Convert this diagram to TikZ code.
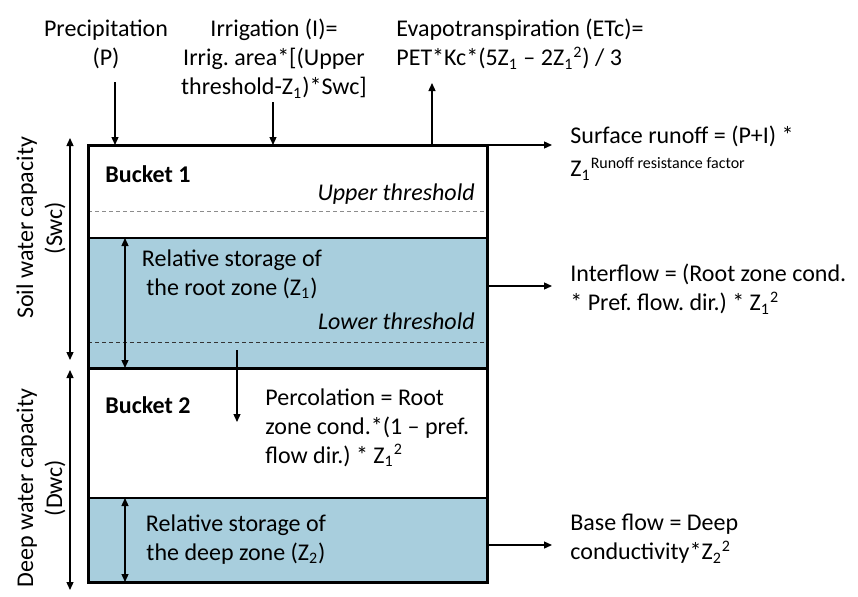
\documentclass[tikz,border=0pt]{standalone}
\usepackage{fontspec}
\setmainfont{Carlito}
\usetikzlibrary{arrows.meta}
\frenchspacing
\definecolor{zone}{RGB}{168,206,221}
\colorlet{thresh}{black!45}
\tikzset{
	lbl/.style={inner sep=0pt, font=\fontsize{12}{14.5}\selectfont},
	lbll/.style={lbl, align=left},
	lblc/.style={lbl, align=center},
	flow/.style={->, line width=0.65pt},
	span/.style={<->, line width=0.65pt},
	wall/.style={line width=1.5pt},
	divider/.style={line width=1pt},
	upperdash/.style={thresh, line width=0.5pt, dash pattern=on 2pt off 1.5pt},
	lowerdash/.style={black!80, line width=0.5pt, dash pattern=on 2pt off 1.5pt},
	>={Triangle[length=4pt,width=3.5pt]},
	}

\begin{document}
\begin{tikzpicture}[x=0.5pt,y=-0.5pt]
\useasboundingbox (0,0) rectangle (858,596);
%PUNTI
\coordinate (tl) at (88,145);
\coordinate (tr) at (487,145);
\coordinate (bl) at (88,582);
\coordinate (br) at (487,582);
%ZONE COLORATE
\fill[zone] (88,238) rectangle (487,368);
\fill[zone] (88,498) rectangle (487,582);
\draw[upperdash] (88,211) -- (487,211);
\draw[lowerdash] (88,342) -- (487,342);
\draw[divider] (88,238) -- (487,238);
\draw[wall] (88,368) -- (487,368);
\draw[divider] (88,498) -- (487,498);
\draw[wall] (tl) rectangle (br);
%TESTI IN ALTO
\node (prec) at (106,19) [lblc, anchor=north] {Precipitation\\(P)};
\node (irrig) at (274,19) [lblc, anchor=north] {Irrigation (I)=\\Irrig. area*[(Upper\\threshold-Z\textsubscript{1})*Swc]};
\node (evap) at (396,19) [lbll, anchor=north west] {Evapotranspiration (ETc)=\\PET*Kc*(5Z\textsubscript{1} -- 2Z\textsubscript{1}\textsuperscript{2}) / 3};
%TESTI A DESTRA
\node (runoff) at (570,126) [lbll, anchor=north west] {Surface runoff = (P+I) *\\[2pt]Z\textsubscript{1}\textsuperscript{Runoff resistance factor}};
\node (inter) at (570,264) [lbll, anchor=north west] {Interflow = (Root zone cond.\\* Pref. flow. dir.) * Z\textsubscript{1}\textsuperscript{2}};
\node (base) at (570,514) [lbll, anchor=north west] {Base flow = Deep\\conductivity*Z\textsubscript{2}\textsuperscript{2}};
%TESTI NEI SECCHI
\node (b1) at (105,182) [lbl, anchor=base west, font=\fontsize{12}{14.5}\selectfont\bfseries] {Bucket 1};
\node (b2) at (105,413) [lbl, anchor=base west, font=\fontsize{12}{14.5}\selectfont\bfseries] {Bucket 2};
\node (up) at (475,200) [lbl, anchor=base east, font=\fontsize{12}{14.5}\selectfont\itshape] {Upper threshold};
\node (low) at (475,329) [lbl, anchor=base east, font=\fontsize{12}{14.5}\selectfont\itshape] {Lower threshold};
\node (z1) at (232,249) [lblc, anchor=north] {Relative storage of\\the root zone (Z\textsubscript{1})};
\node (z2) at (236,514) [lblc, anchor=north] {Relative storage of\\the deep zone (Z\textsubscript{2})};
\node (perc) at (265,388) [lbll, anchor=north west] {Percolation = Root\\zone cond.*(1 -- pref.\\flow dir.) * Z\textsubscript{1}\textsuperscript{2}};
%TESTI A SINISTRA
\node (swc) at (41,228) [lblc, rotate=90] {Soil water capacity\\(Swc)};
\node (dwc) at (41,488) [lblc, rotate=90] {Deep water capacity\\(Dwc)};
%FRECCE
\coordinate (pa) at (115,82);   \coordinate (pb) at (115,145);
\coordinate (ia) at (273,102);  \coordinate (ib) at (273,145);
\coordinate (ea) at (432,145);  \coordinate (eb) at (432,83);
\coordinate (ra) at (487,145);  \coordinate (rb) at (552,145);
\coordinate (fa) at (487,286);  \coordinate (fb) at (552,286);
\coordinate (qa) at (487,545);  \coordinate (qb) at (552,545);
\coordinate (ca) at (237,350);  \coordinate (cb) at (237,422);
\draw[flow] (pa) -- (pb);
\draw[flow] (ia) -- (ib);
\draw[flow] (ea) -- (eb);
\draw[flow] (ra) -- (rb);
\draw[flow] (fa) -- (fb);
\draw[flow] (qa) -- (qb);
\draw[flow] (ca) -- (cb);
% CAPACITA
\coordinate (sa) at (70,138);   \coordinate (sb) at (70,360);
\coordinate (da) at (70,370);   \coordinate (db) at (70,590);
\coordinate (za) at (125,238);  \coordinate (zb) at (125,368);
\coordinate (ya) at (125,498);  \coordinate (yb) at (125,582);
\draw[span] (sa) -- (sb);
\draw[span] (da) -- (db);
\draw[span] (za) -- (zb);
\draw[span] (ya) -- (yb);
\end{tikzpicture}
\end{document}
